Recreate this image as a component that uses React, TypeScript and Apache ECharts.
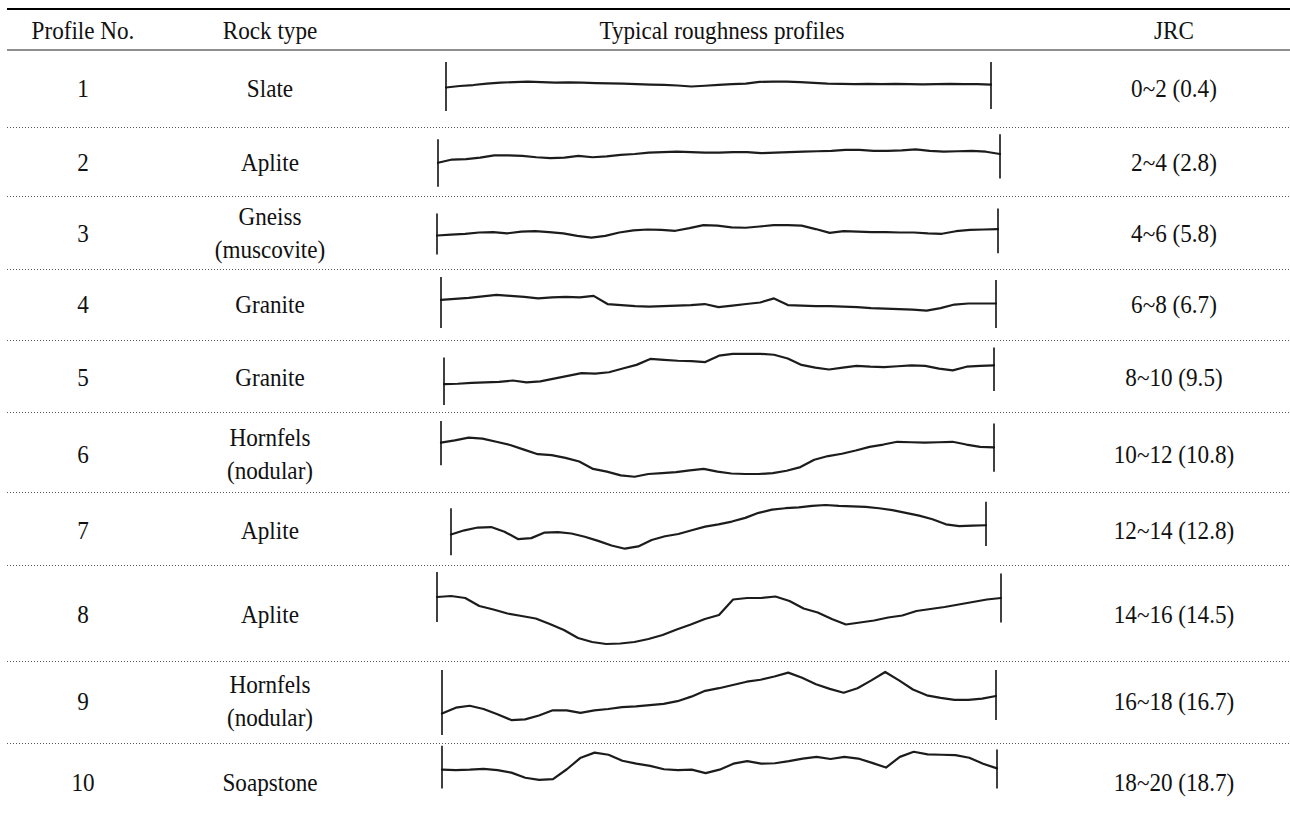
import React, { useEffect, useRef } from "react";
import * as echarts from "echarts";

// ---------------- data ----------------
const headers = ["Profile No.", "Rock type", "Typical roughness profiles", "JRC"];
const profileNos = ["1", "2", "3", "4", "5", "6", "7", "8", "9", "10"];
const rockTypes = [
  "Slate",
  "Aplite",
  "Gneiss\n(muscovite)",
  "Granite",
  "Granite",
  "Hornfels\n(nodular)",
  "Aplite",
  "Aplite",
  "Hornfels\n(nodular)",
  "Soapstone",
];
const jrcRanges = ["0~2", "2~4", "4~6", "6~8", "8~10", "10~12", "12~14", "14~16", "16~18", "18~20"];
const jrcTypical = ["0.4", "2.8", "5.8", "6.7", "9.5", "10.8", "12.8", "14.5", "16.7", "18.7"];

// profile heights (% of end-bar height), sampled every 2.5 % of the profile length
const profileStep = 2.5;
const profile1 = [48, 51, 53, 56, 58, 59, 60, 59, 58, 58.5, 58, 57, 56.5, 56, 55, 54, 53.5, 52, 50, 51.5, 53.5, 55, 56, 59.5, 60, 60, 59, 57.5, 56, 55.5, 55, 55.5, 55, 55.5, 55, 54.5, 55, 55.5, 55, 55, 54];
const profile2 = [44, 51, 52, 55, 60, 60, 59, 56, 54, 55, 59, 56, 58, 61, 63, 66, 67, 68, 67, 66, 66, 67, 67, 65, 66, 67, 68, 69, 70, 72, 72, 70, 70, 71, 73, 70, 68, 69, 70, 68, 63];
const profile3 = [43, 45, 47, 50, 51, 48, 52, 53, 51, 48, 42, 38, 42, 50, 55, 57, 56, 54, 60, 67, 66, 62, 61, 64, 67, 67, 66, 58, 49, 53, 52, 51, 51, 50, 50, 48, 47, 53, 56, 57, 58];
const profile4 = [55, 57, 59, 62, 65, 63, 61, 58, 60, 61, 60, 63, 47, 45, 43, 42, 43, 44, 45, 47, 41, 44, 47, 50, 58, 45, 44, 43, 43, 42, 41, 39, 38, 37, 36, 34, 39, 46, 48, 48, 48];
const profile5 = [30, 31, 33, 34, 35, 38, 34, 36, 42, 48, 54, 53, 56, 64, 72, 85, 83, 81, 80, 78, 92, 96, 96, 96, 94, 86, 72, 66, 62, 66, 70, 68, 67, 69, 71, 70, 64, 60, 68, 70, 71];
const profile6 = [55, 60, 66, 64, 57, 50, 40, 30, 28, 22, 14, -2, -8, -16, -19, -13, -11, -9, -5, -2, -8, -12, -13, -13, -11, -6, 2, 18, 26, 31, 38, 46, 51, 57, 56, 55, 56, 57, 51, 46, 45];
const profile7 = [36, 45, 51, 52, 42, 26, 28, 40, 41, 38, 31, 22, 12, 5, 10, 24, 32, 37, 45, 53, 58, 64, 72, 83, 90, 93, 95, 98, 100, 98, 97, 96, 93, 89, 83, 77, 69, 58, 54, 55, 56];
const profile8 = [50, 52, 48, 32, 25, 17, 12, 7, -4, -16, -32, -40, -44, -43, -40, -34, -26, -15, -5, 6, 14, 45, 48, 48, 51, 42, 27, 19, 6, -5, -1, 3, 9, 13, 22, 26, 30, 35, 40, 45, 48];
const profile9 = [33, 42, 45, 40, 32, 23, 24, 30, 38, 38, 34, 38, 40, 43, 44, 46, 48, 52, 59, 68, 72, 77, 82, 85, 90, 96, 88, 78, 71, 65, 72, 84, 97, 84, 70, 61, 57, 54, 54, 56, 60];
const profile10 = [44, 43, 44, 46, 43, 37, 25, 20, 22, 45, 72, 84, 79, 65, 58, 53, 45, 43, 44, 36, 44, 58, 64, 58, 59, 64, 70, 74, 69, 74, 70, 60, 49, 74, 86, 80, 79, 78, 72, 58, 47];
const profiles = [profile1, profile2, profile3, profile4, profile5, profile6, profile7, profile8, profile9, profile10];

// ---------------- layout (pixels) ----------------
const W = 1290;
const H = 814;
const ruleLeft = 7;
const colX = [83, 270, 722, 1174];
const headerY = 30;
const topRuleY = 9;
const headerRuleY = 50;
const rowY = [88, 162, 233, 304, 377, 454, 530, 614, 701, 782];
const sepY = [127, 196, 269, 340, 412, 492, 565, 661, 743];
// [left, right, barTop, barBottom]
const boxes = [
  [446, 991, 62, 111],
  [438, 1000, 137, 183],
  [437, 998, 211, 254],
  [441, 996, 277, 328],
  [444, 994, 352, 398],
  [441, 994, 422, 468],
  [451, 986, 505, 551],
  [437, 1001, 572, 622],
  [442, 996, 670, 735],
  [442, 997, 752, 805],
];
// end-bar extents in profile units: [leftLow, leftHigh, rightLow, rightHigh]
const barEnds = [
  [0, 100, 4, 100],
  [-8, 95, 10, 106],
  [-1, 94, 2, 106],
  [0, 100, 0, 94],
  [-15, 88, 15, 110],
  [6, 102, -8, 97],
  [-9, 93, 11, 107],
  [0, 100, -1, 97],
  [0, 100, 23, 100],
  [0, 100, 0, 91],
];
const Y_MIN = -60;
const Y_MAX = 160;

const FONT = "'Liberation Serif', 'Times New Roman', serif";
const FONT_SIZE = 26;
const SCALE_X = 0.89;

function txt(text: string, x: number, y: number) {
  return {
    type: "text",
    x,
    y,
    scaleX: SCALE_X,
    silent: true,
    style: {
      text,
      fill: "#111",
      fontSize: FONT_SIZE,
      fontFamily: FONT,
      align: "center",
      verticalAlign: "middle",
      textAlign: "center",
      textVerticalAlign: "middle",
      lineHeight: 33,
    },
  };
}

function hline(y: number, stroke: string, lineWidth: number, dash?: number[]) {
  return {
    type: "line",
    silent: true,
    shape: { x1: ruleLeft, y1: y, x2: W, y2: y },
    style: { stroke, lineWidth, lineDash: dash || null },
  };
}

function buildOption() {
  const graphics: any[] = [];
  graphics.push(hline(topRuleY, "#000", 2));
  graphics.push(hline(headerRuleY, "#6a6a6a", 1.5));
  sepY.forEach((y) => graphics.push(hline(y + 0.5, "#555", 1, [1, 2])));
  headers.forEach((h, i) => graphics.push(txt(h, colX[i], headerY)));
  rowY.forEach((y, i) => {
    graphics.push(txt(profileNos[i], colX[0], y));
    graphics.push(txt(rockTypes[i], colX[1], y));
    graphics.push(txt(`${jrcRanges[i]} (${jrcTypical[i]})`, colX[3], y));
  });

  const grid = boxes.map(([l, r, t, b]) => {
    const bh = b - t;
    const span = Y_MAX - Y_MIN;
    return {
      left: l,
      width: r - l,
      top: t - ((Y_MAX - 100) / 100) * bh,
      height: (span / 100) * bh,
      containLabel: false,
    };
  });
  const xAxis = boxes.map((_, i) => ({ type: "value", gridIndex: i, min: 0, max: 100, show: false }));
  const yAxis = boxes.map((_, i) => ({ type: "value", gridIndex: i, min: Y_MIN, max: Y_MAX, show: false }));
  const series = profiles.map((p, i) => {
    const e = barEnds[i];
    return {
      type: "line",
      xAxisIndex: i,
      yAxisIndex: i,
      data: p.map((v, k) => [k * profileStep, v]),
      showSymbol: false,
      symbol: "none",
      silent: true,
      clip: false,
      lineStyle: { color: "#1c1c1c", width: 2.2, join: "round", cap: "round" },
      emphasis: { disabled: true },
      markLine: {
        silent: true,
        symbol: ["none", "none"],
        label: { show: false },
        emphasis: { disabled: true },
        lineStyle: { color: "#111", width: 1.6, type: "solid" },
        data: [
          [{ coord: [0, e[0]] }, { coord: [0, e[1]] }],
          [{ coord: [100, e[2]] }, { coord: [100, e[3]] }],
        ],
      },
    };
  });

  return {
    animation: false,
    backgroundColor: "#ffffff",
    grid,
    xAxis,
    yAxis,
    series,
    graphic: { elements: graphics },
  };
}

export default function App() {
  const ref = useRef<HTMLDivElement>(null);
  useEffect(() => {
    if (!ref.current) return;
    const chart = echarts.init(ref.current, null, { renderer: "svg" });
    chart.setOption(buildOption() as any);
    return () => chart.dispose();
  }, []);
  return (
    <div
      ref={ref}
      style={{ position: "absolute", left: 0, top: 0, width: W, height: H, background: "#fff" }}
    />
  );
}
